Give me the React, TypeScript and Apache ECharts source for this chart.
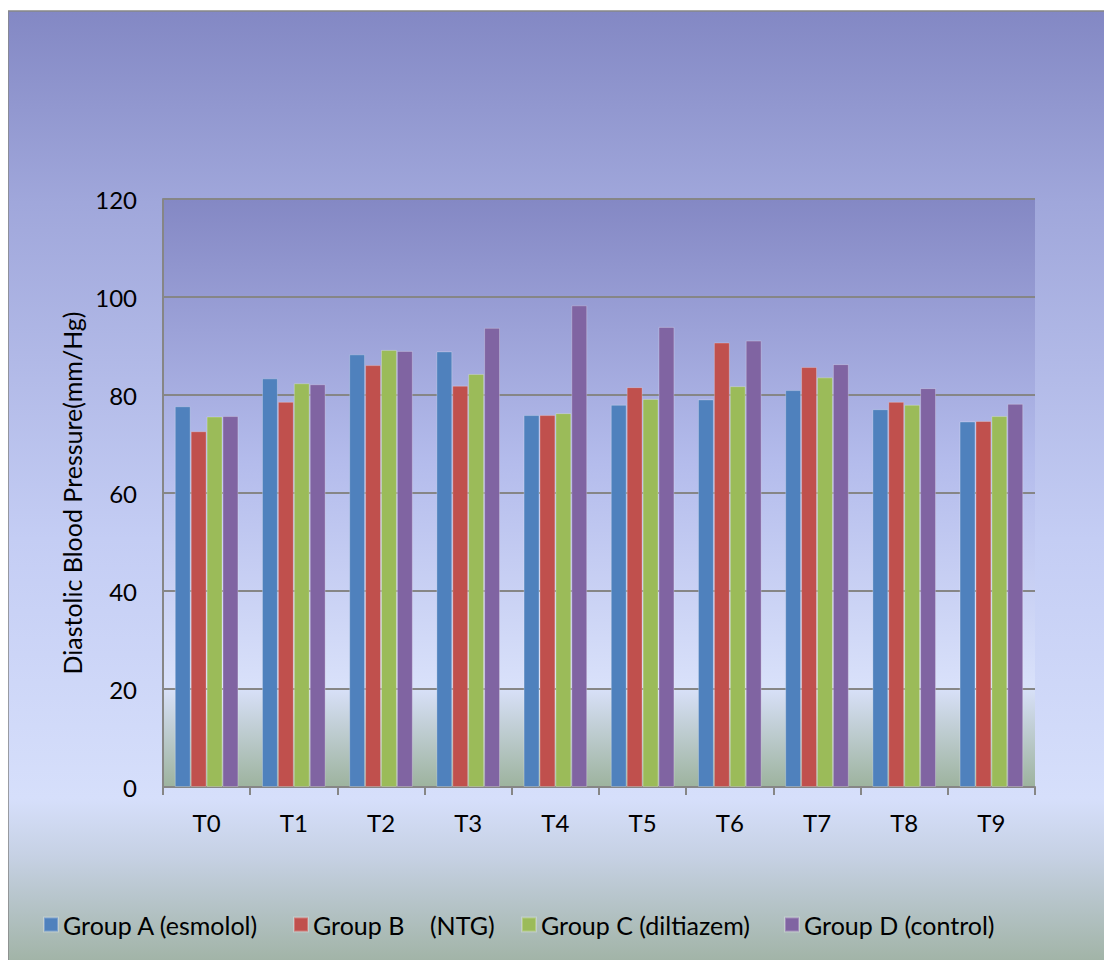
import React, { useEffect, useRef } from "react";
import * as echarts from "echarts";

const categories = ["T0", "T1", "T2", "T3", "T4", "T5", "T6", "T7", "T8", "T9"];
const groupA = [77.7, 83.4, 88.3, 88.9, 75.9, 78.0, 79.1, 81.0, 77.1, 74.6];
const groupB = [72.6, 78.6, 86.1, 81.9, 75.9, 81.6, 90.7, 85.7, 78.6, 74.7];
const groupC = [75.6, 82.4, 89.2, 84.3, 76.3, 79.2, 81.8, 83.6, 78.0, 75.7];
const groupD = [75.7, 82.2, 89.0, 93.7, 98.3, 93.9, 91.1, 86.3, 81.4, 78.2];
const seriesNames = ["Group A (esmolol)", "Group B    (NTG)", "Group C (diltiazem)", "Group D (control)"];
const seriesColors = ["#4f81bd", "#c0504d", "#9bbb59", "#8064a2"];
const yTicks = { min: 0, max: 120, interval: 20 };
const yName = "Diastolic Blood Pressure(mm/Hg)";

const FONT = "Lato";

export default function App() {
  const ref = useRef<HTMLDivElement>(null);
  useEffect(() => {
    if (!ref.current) return;
    const chart = echarts.init(ref.current, null, { renderer: "svg" });
    const values = [groupA, groupB, groupC, groupD];
    const legendLefts = [35, 285, 513, 776];
    chart.setOption({
      animation: false,
      textStyle: { fontFamily: FONT },
      graphic: [
        {
          type: "rect",
          z: -10,
          silent: true,
          shape: { x: 0, y: 3, width: 1120, height: 960 },
          style: {
            fill: new echarts.graphic.LinearGradient(0, 0, 0, 1, [
              { offset: 0, color: "#8388c4" },
              { offset: 0.2, color: "#a0a7db" },
              { offset: 0.55, color: "#c4cdf4" },
              { offset: 0.82, color: "#d6dffb" },
              { offset: 0.88, color: "#c6d1e4" },
              { offset: 1, color: "#9eb1a1" },
            ]),
            stroke: "#868686",
            lineWidth: 1.5,
          },
        },
      ],
      grid: {
        left: 155,
        top: 191,
        right: 77,
        bottom: 173,
        show: true,
        borderWidth: 0,
        backgroundColor: new echarts.graphic.LinearGradient(0, 0, 0, 1, [
          { offset: 0, color: "#8488c4" },
          { offset: 0.45, color: "#b4bcec" },
          { offset: 0.83, color: "#d9e1fa" },
          { offset: 1, color: "#9db39e" },
        ]),
      },
      legend: seriesNames.map((n, i) => ({
        data: [n],
        left: legendLefts[i],
        top: 904,
        padding: 0,
        itemWidth: 14,
        itemHeight: 14,
        itemGap: 5,
        icon: "rect",
        selectedMode: false,
        textStyle: { fontSize: 25, color: "#000", fontFamily: FONT },
      })),
      xAxis: {
        type: "category",
        data: categories,
        axisLine: { lineStyle: { color: "#868686", width: 2 } },
        axisTick: { show: true, length: 8, interval: 0, lineStyle: { color: "#868686", width: 2 } },
        axisLabel: { fontSize: 24, color: "#000", margin: 23, fontFamily: FONT },
        splitLine: { show: false },
      },
      yAxis: {
        type: "value",
        min: yTicks.min,
        max: yTicks.max,
        interval: yTicks.interval,
        name: yName,
        nameLocation: "middle",
        nameGap: 73,
        nameRotate: 90,
        nameTextStyle: { fontSize: 25, color: "#000", fontFamily: FONT },
        axisLine: { show: true, lineStyle: { color: "#868686", width: 2 } },
        axisTick: { show: false },
        axisLabel: { fontSize: 24, color: "#000", margin: 26, fontFamily: FONT },
        splitLine: { show: true, lineStyle: { color: "#868686", width: 2 } },
      },
      series: values.map((v, i) => ({
        name: seriesNames[i],
        type: "bar",
        data: v,
        barGap: "0%",
        barCategoryGap: "27%",
        itemStyle: {
          color: seriesColors[i],
          borderColor: "rgba(255,255,255,0.25)",
          borderWidth: 1,
        },
      })),
    });
    return () => chart.dispose();
  }, []);
  return <div ref={ref} style={{ width: 1104, height: 952 }} />;
}
